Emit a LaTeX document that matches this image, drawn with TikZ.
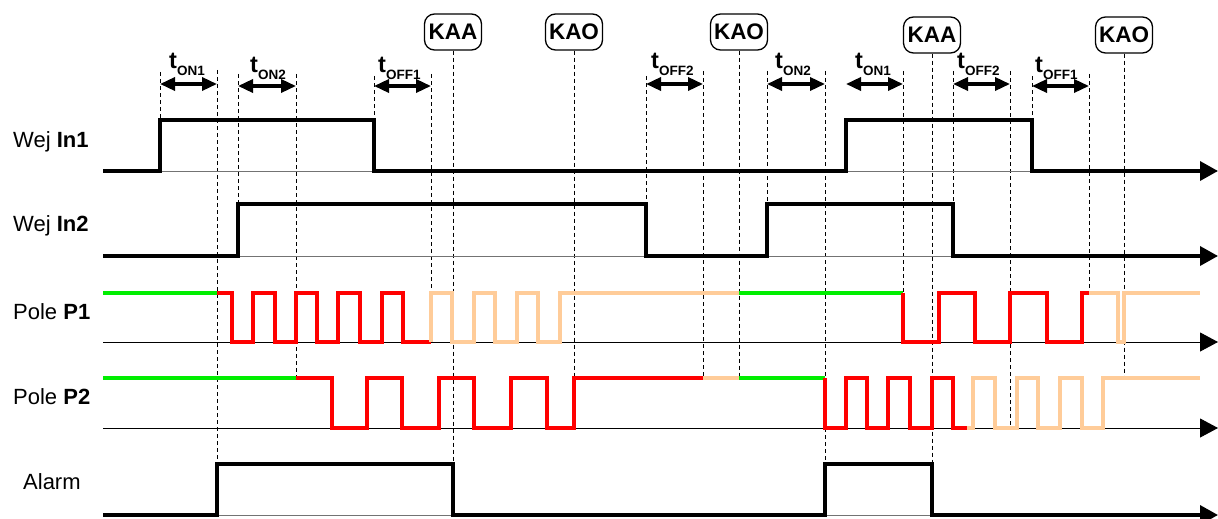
\documentclass[tikz,border=0pt]{standalone}
\usepackage{fontspec}
\setmainfont{Liberation Sans}
\usetikzlibrary{arrows.meta}
\definecolor{sigred}{RGB}{255,0,0}
\definecolor{siggreen}{RGB}{0,238,0}
\definecolor{sigorange}{RGB}{255,204,153}
\newcommand{\tsub}[1]{t\raisebox{-6.5pt}{\fontsize{13.5}{13.5}\selectfont #1}}
\begin{document}
\begin{tikzpicture}[x=1pt,y=-1pt,
  guide/.style={black, line width=0.8pt, dash pattern=on 4pt off 3pt},
  axisgray/.style={black!55, line width=1pt},
  axisblack/.style={black, line width=1pt, -{Triangle[length=18pt,width=19pt]}},
  sig/.style={black, line width=3.5pt, line join=miter, -{Triangle[length=18pt,width=19pt]}},
  csig/.style={line width=4pt, line join=miter},
  dimarrow/.style={line width=3.4pt, {Triangle[length=15pt,width=13pt]}-{Triangle[length=15pt,width=13pt]}},
  kbox/.style={draw, rounded corners=10pt, line width=1.3pt, minimum width=57pt, minimum height=36pt, inner sep=0pt, font=\fontsize{22.5}{22.5}\selectfont\bfseries},
  rowlab/.style={anchor=base west, inner sep=0pt, font=\fontsize{22}{26}\selectfont},
  tlab/.style={anchor=base west, inner sep=0pt, font=\fontsize{23.5}{23.5}\selectfont\bfseries},
]
\useasboundingbox (0,0) rectangle (1218,519);

% row labels
\node[rowlab] (lin1) at (13,147) {Wej \textbf{In1}};
\node[rowlab] (lin2) at (13,231) {Wej \textbf{In2}};
\node[rowlab] (lp1) at (13,319) {Pole \textbf{P1}};
\node[rowlab] (lp2) at (13,404) {Pole \textbf{P2}};
\node[rowlab] (lal) at (23,489) {Alarm};

% KAA / KAO boxes
\node[kbox] (kaa1) at (453,32) {KAA};
\node[kbox] (kao1) at (574,32) {KAO};
\node[kbox] (kao2) at (739,32) {KAO};
\node[kbox] (kaa2) at (932,35) {KAA};
\node[kbox] (kao3) at (1124,35) {KAO};

% guide lines
\draw[guide] (160,72) -- (160,120);
\draw[guide] (217,70) -- (217,464);
\draw[guide] (238,74) -- (238,204);
\draw[guide] (296,74) -- (296,378);
\draw[guide] (374,76) -- (374,120);
\draw[guide] (431,74) -- (431,293);
\draw[guide] (kaa1.south) -- (453,464);
\draw[guide] (kao1.south) -- (574,378);
\draw[guide] (646,76) -- (646,204);
\draw[guide] (703,71) -- (703,378);
\draw[guide] (kao2.south) -- (739,378);
\draw[guide] (767,71) -- (767,204);
\draw[guide] (825,71) -- (825,464);
\draw[guide] (903,71) -- (903,293);
\draw[guide] (kaa2.south) -- (932,464);
\draw[guide] (953,71) -- (953,204);
\draw[guide] (1010,71) -- (1010,428);
\draw[guide] (1032,76) -- (1032,120);
\draw[guide] (1089,74) -- (1089,293);
\draw[guide] (kao3.south) -- (1124,378);

% dimension arrows
\draw[dimarrow] (160,84) -- (217,84);
\draw[dimarrow] (238,86) -- (296,86);
\draw[dimarrow] (374,86) -- (431,86);
\draw[dimarrow] (646,84) -- (703,84);
\draw[dimarrow] (767,84) -- (825,84);
\draw[dimarrow] (846,84) -- (903,84);
\draw[dimarrow] (953,84) -- (1010,84);
\draw[dimarrow] (1032,86) -- (1089,86);

% dimension labels
\node[tlab] (t1) at (169,69) {\tsub{ON1}};
\node[tlab] (t2) at (250,73) {\tsub{ON2}};
\node[tlab] (t3) at (378,73) {\tsub{OFF1}};
\node[tlab] (t4) at (651,69) {\tsub{OFF2}};
\node[tlab] (t5) at (775,69) {\tsub{ON2}};
\node[tlab] (t6) at (855,69) {\tsub{ON1}};
\node[tlab] (t7) at (957,69) {\tsub{OFF2}};
\node[tlab] (t8) at (1035,73) {\tsub{OFF1}};

% In1
\draw[axisgray] (103,171) -- (1200,171);
\draw[sig] (103,171) -- (160,171) -- (160,120) -- (374,120) -- (374,171) -- (846,171) -- (846,120) -- (1032,120) -- (1032,171) -- (1218,171);
% In2
\draw[axisgray] (103,256) -- (1200,256);
\draw[sig] (103,256) -- (238,256) -- (238,204) -- (646,204) -- (646,256) -- (767,256) -- (767,204) -- (953,204) -- (953,256) -- (1218,256);

% P1
\draw[axisblack] (103,342) -- (1218,342);
\draw[csig, siggreen] (103,293) -- (217,293);
\draw[csig, sigred] (217,293) -- (232,293) -- (232,342) -- (253,342) -- (253,293) -- (275,293) -- (275,342) -- (296,342) -- (296,293) -- (317,293) -- (317,342) -- (338,342) -- (338,293) -- (360,293) -- (360,342) -- (382,342) -- (382,293) -- (403,293) -- (403,342) -- (431,342);
\draw[csig, sigorange] (431,342) -- (431,293) -- (452,293) -- (452,342) -- (474,342) -- (474,293) -- (495,293) -- (495,342) -- (517,342) -- (517,293) -- (538,293) -- (538,342) -- (560,342) -- (560,293) -- (739,293);
\draw[csig, siggreen] (739,293) -- (903,293);
\draw[csig, sigred] (903,293) -- (903,342) -- (939,342) -- (939,293) -- (975,293) -- (975,342) -- (1010,342) -- (1010,293) -- (1047,293) -- (1047,342) -- (1082,342) -- (1082,293) -- (1089,293);
\draw[csig, sigorange] (1089,293) -- (1118,293) -- (1118,342) -- (1124,342) -- (1124,293) -- (1200,293);

% P2
\draw[axisblack] (103,428) -- (1218,428);
\draw[csig, siggreen] (103,378) -- (296,378);
\draw[csig, sigred] (296,378) -- (332,378) -- (332,428) -- (367,428) -- (367,378) -- (402,378) -- (402,428) -- (439,428) -- (439,378) -- (474,378) -- (474,428) -- (511,428) -- (511,378) -- (547,378) -- (547,428) -- (574,428) -- (574,378) -- (703,378);
\draw[csig, sigorange] (703,378) -- (739,378);
\draw[csig, siggreen] (739,378) -- (825,378);
\draw[csig, sigred] (825,378) -- (825,428) -- (846,428) -- (846,378) -- (867,378) -- (867,428) -- (888,428) -- (888,378) -- (910,378) -- (910,428) -- (932,428) -- (932,378) -- (953,378) -- (953,428) -- (967,428);
\draw[csig, sigorange] (967,428) -- (973,428) -- (973,378) -- (995,378) -- (995,428) -- (1017,428) -- (1017,378) -- (1038,378) -- (1038,428) -- (1060,428) -- (1060,378) -- (1082,378) -- (1082,428) -- (1103,428) -- (1103,378) -- (1200,378);

% Alarm
\draw[axisgray] (103,515) -- (1200,515);
\draw[sig] (103,515) -- (217,515) -- (217,464) -- (453,464) -- (453,515) -- (825,515) -- (825,464) -- (932,464) -- (932,515) -- (1218,515);
\end{tikzpicture}
\end{document}
